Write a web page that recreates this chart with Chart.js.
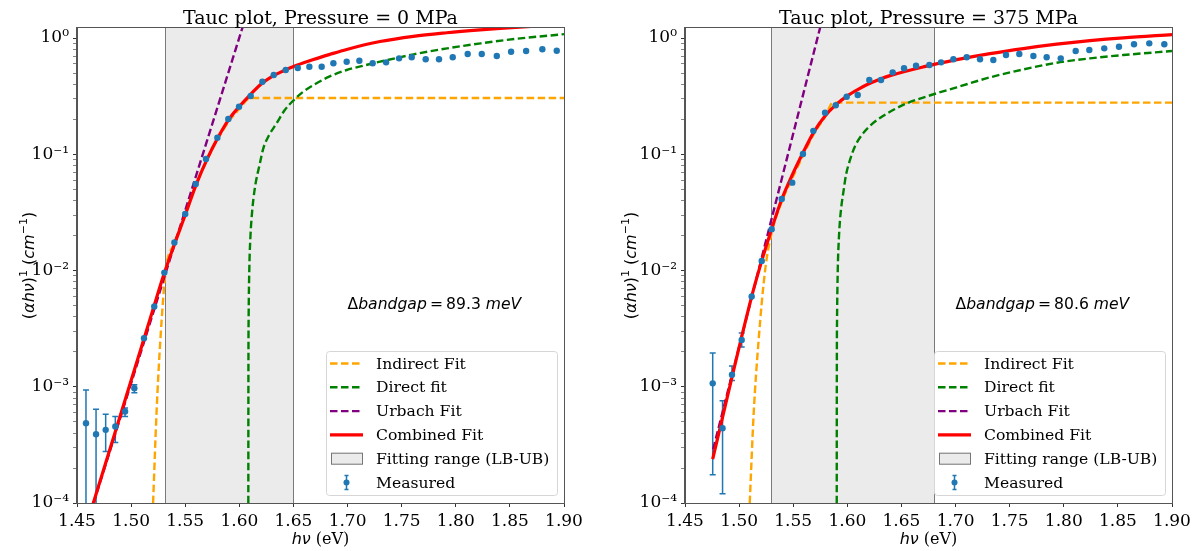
<!DOCTYPE html>
<html>
<head>
<meta charset="utf-8">
<script src="https://cdn.jsdelivr.net/npm/chart.js@4.4.1/dist/chart.umd.min.js"></script>
<style>
  body { margin: 0; background: #fff; }
  #wrap { position: relative; width: 1204px; height: 551px; }
  canvas { position: absolute; top: 0; }
  #c0 { left: 0; }
  #c1 { left: 602px; }
</style>
</head>
<body>
<div id="wrap">
  <canvas id="c0" width="602" height="551"></canvas>
  <canvas id="c1" width="602" height="551"></canvas>
</div>
<script>
// axis ticks and texts
const xTicks = [1.45, 1.50, 1.55, 1.60, 1.65, 1.70, 1.75, 1.80, 1.85, 1.90]
const yMajorTicks = [1e-4, 1e-3, 1e-2, 1e-1, 1]
const yTickLabels = ['10⁻⁴', '10⁻³', '10⁻²', '10⁻¹', '10⁰']
const legendLabels = ['Indirect Fit', 'Direct fit', 'Urbach Fit', 'Combined Fit', 'Fitting range (LB-UB)', 'Measured']
const panelTitles = ['Tauc plot, Pressure = 0 MPa', 'Tauc plot, Pressure = 375 MPa']
const bandgapShift = ['89.3', '80.6']

// ---- 0 MPa ----
const measE0 = [1.4583, 1.4676, 1.4765, 1.4854, 1.4944, 1.5030, 1.5119, 1.5214, 1.5307, 1.5400,
  1.5500, 1.5597, 1.5692, 1.5797, 1.5898, 1.5997, 1.6105, 1.6213, 1.6318, 1.6429,
  1.6540, 1.6647, 1.6761, 1.6869, 1.6992, 1.7109, 1.7232, 1.7356, 1.7476, 1.7593,
  1.7722, 1.7845, 1.7972, 1.8110, 1.8240, 1.8379, 1.8511, 1.8650, 1.8800, 1.8933]
const measY0 = [4.86e-4, 3.9e-4, 4.26e-4, 4.55e-4, 6.12e-4, 9.73e-4, 2.62e-3, 4.9e-3, 9.6e-3, 0.0174,
  0.0307, 0.0556, 0.0911, 0.139, 0.201, 0.257, 0.317, 0.421, 0.481, 0.531,
  0.552, 0.567, 0.567, 0.606, 0.626, 0.638, 0.606, 0.618, 0.669, 0.683,
  0.656, 0.656, 0.683, 0.728, 0.728, 0.700, 0.762, 0.773, 0.800, 0.778]
const errLow0 = [1e-5, 5e-5, 2.77e-4, 3.31e-4, 5.54e-4, 8.9e-4]
const errHigh0 = [9.4e-4, 6.41e-4, 5.81e-4, 5.54e-4, 6.55e-4, 1.04e-3]
const combE0 = [1.450, 1.500, 1.520, 1.530, 1.540, 1.550, 1.560, 1.570, 1.580, 1.590, 1.600, 1.610,
  1.620, 1.630, 1.640, 1.653, 1.6684, 1.6838, 1.6992, 1.730, 1.7608, 1.7916, 1.8224, 1.8409, 1.870, 1.900]
const combY0 = [3.5e-5, 1.13e-3, 4.55e-3, 9.1e-3, 0.0168, 0.0300, 0.0545, 0.090, 0.138, 0.198, 0.258, 0.325,
  0.400, 0.465, 0.518, 0.582, 0.653, 0.724, 0.798, 0.933, 1.035, 1.11, 1.175, 1.21, 1.26, 1.30]
const indE0 = [1.5203, 1.5235, 1.527, 1.532, 1.540, 1.550, 1.560, 1.570, 1.580, 1.590, 1.600, 1.6105, 1.900]
const indY0 = [1e-4, 6e-4, 2.5e-3, 1.0e-2, 0.0172, 0.0305, 0.055, 0.089, 0.135, 0.190, 0.245, 0.305, 0.305]
const dirE0 = [1.6083, 1.6084, 1.6086, 1.6093, 1.6103, 1.6113, 1.6129, 1.6153, 1.6183, 1.6221, 1.6273,
  1.6345, 1.6420, 1.6499, 1.6590, 1.6685, 1.6830, 1.6992, 1.7150, 1.7300, 1.7610, 1.7920, 1.8230, 1.8540, 1.9000]
const dirY0 = [8e-5, 1.5e-3, 4e-3, 0.011, 0.020, 0.028, 0.0405, 0.058, 0.078, 0.112, 0.145,
  0.185, 0.240, 0.290, 0.345, 0.394, 0.465, 0.531, 0.580, 0.626, 0.724, 0.815, 0.900, 0.980, 1.08]
const urbE0 = [1.45, 1.61]
const urbY0 = [3.5e-5, 2.0]
const fitRange0 = [1.531, 1.650]

// ---- 375 MPa ----
const measE1 = [1.4756, 1.4847, 1.4934, 1.5024, 1.5116, 1.5209, 1.5301, 1.5394, 1.5491, 1.5590,
  1.5686, 1.5794, 1.5893, 1.5994, 1.6096, 1.6203, 1.6311, 1.6419, 1.6524, 1.6635,
  1.6758, 1.6866, 1.6980, 1.7103, 1.7226, 1.7349, 1.7466, 1.7589, 1.7719, 1.7842,
  1.7972, 1.8110, 1.8236, 1.8374, 1.8510, 1.8649, 1.8790, 1.8929]
const measY1 = [1.07e-3, 4.4e-4, 1.27e-3, 2.53e-3, 5.97e-3, 0.0121, 0.0227, 0.0413, 0.057, 0.1007,
  0.159, 0.228, 0.264, 0.313, 0.324, 0.435, 0.435, 0.507, 0.549, 0.578,
  0.586, 0.618, 0.656, 0.683, 0.656, 0.647, 0.714, 0.728, 0.700, 0.683,
  0.669, 0.773, 0.789, 0.815, 0.842, 0.883, 0.900, 0.883]
const errLow1 = [1.75e-4, 1.2e-4, 1.13e-3, 2.2e-3]
const errHigh1 = [1.95e-3, 7.57e-4, 1.51e-3, 2.9e-3]
const combE1 = [1.4756, 1.5116, 1.5209, 1.530, 1.5394, 1.549, 1.559, 1.5686, 1.5794, 1.5893, 1.600, 1.610,
  1.6179, 1.630, 1.6394, 1.6702, 1.7011, 1.7318, 1.7626, 1.7935, 1.8242, 1.855, 1.900]
const combY1 = [2.39e-4, 5.97e-3, 0.0121, 0.0227, 0.041, 0.066, 0.103, 0.153, 0.213, 0.266, 0.318, 0.362,
  0.396, 0.442, 0.475, 0.565, 0.652, 0.735, 0.812, 0.885, 0.950, 1.005, 1.07]
const indE1 = [1.5098, 1.5135, 1.518, 1.524, 1.530, 1.5394, 1.549, 1.559, 1.5686, 1.5794, 1.5868, 1.900]
const indY1 = [1e-4, 6e-4, 2.5e-3, 1e-2, 0.021, 0.039, 0.062, 0.097, 0.147, 0.210, 0.278, 0.278]
const dirE1 = [1.5902, 1.5903, 1.5905, 1.5912, 1.5922, 1.5932, 1.5947, 1.5963, 1.5987, 1.6024, 1.6072, 1.6147,
  1.6222, 1.6301, 1.6394, 1.6549, 1.6804, 1.7011, 1.7318, 1.7626, 1.7935, 1.8242, 1.8550, 1.9000]
const dirY1 = [8e-5, 1.5e-3, 3.8e-3, 0.0106, 0.019, 0.027, 0.037, 0.047, 0.066, 0.089, 0.118, 0.152,
  0.180, 0.205, 0.232, 0.274, 0.330, 0.377, 0.459, 0.537, 0.613, 0.669, 0.714, 0.773]
const urbE1 = [1.476, 1.58]
const urbY1 = [2.9e-4, 1.9]
const fitRange1 = [1.5295, 1.680]

const blue = '#1f77b4'
const colors = { indirect: '#FFA500', direct: '#008000', urbach: '#800080', combined: '#FF0000' }
const dash = [7.5, 3.5]

const yMinorTicks = []
for (let d = -4; d < 0; d++) {
  for (let k = 2; k <= 9; k++) yMinorTicks.push(k * Math.pow(10, d))
}

function pts(E, Y) {
  return E.map((e, i) => ({ x: e, y: Y[i] }))
}

// draws pieces of text with their own font one after another
function drawRich(ctx, segs, x, y, align) {
  let w = 0
  segs.forEach(s => { ctx.font = s.f; w += ctx.measureText(s.t).width })
  let cx = align === 'center' ? x - w / 2 : x
  ctx.textAlign = 'left'
  segs.forEach(s => {
    ctx.font = s.f
    ctx.fillText(s.t, cx, y + (s.dy || 0))
    cx += ctx.measureText(s.t).width
  })
}

function dashLine(ctx, x0, x1, y, color, width, pattern) {
  ctx.save()
  ctx.strokeStyle = color
  ctx.lineWidth = width
  ctx.setLineDash(pattern)
  ctx.beginPath()
  ctx.moveTo(x0, y)
  ctx.lineTo(x1, y)
  ctx.stroke()
  ctx.restore()
}

const taucPlugin = {
  id: 'tauc',
  beforeDatasetsDraw(chart, args, o) {
    const { ctx, chartArea: a } = chart
    const x = chart.scales.x, y = chart.scales.y
    const l = Math.round(x.getPixelForValue(o.range[0])) + 0.5
    const r = Math.round(x.getPixelForValue(o.range[1])) + 0.5
    ctx.save()
    ctx.fillStyle = 'rgba(211,211,211,0.45)'
    ctx.fillRect(l, a.top, r - l, a.bottom - a.top)
    ctx.strokeStyle = 'rgba(40,40,40,0.6)'
    ctx.lineWidth = 1
    ctx.beginPath()
    ctx.moveTo(l, a.top); ctx.lineTo(l, a.bottom)
    ctx.moveTo(r, a.top); ctx.lineTo(r, a.bottom)
    ctx.stroke()

    // error bars of the measured points
    ctx.beginPath()
    ctx.rect(a.left, a.top, a.right - a.left, a.bottom - a.top)
    ctx.clip()
    ctx.strokeStyle = blue
    ctx.lineWidth = 1.5
    o.errLow.forEach((lo, i) => {
      const px = x.getPixelForValue(o.measE[i])
      const top = y.getPixelForValue(o.errHigh[i])
      const bot = y.getPixelForValue(lo)
      ctx.beginPath()
      ctx.moveTo(px, top); ctx.lineTo(px, bot)
      ctx.moveTo(px - 3, top); ctx.lineTo(px + 3, top)
      ctx.moveTo(px - 3, bot); ctx.lineTo(px + 3, bot)
      ctx.stroke()
    })
    ctx.restore()
  },
  afterDatasetsDraw(chart) {
    const { ctx, chartArea: a } = chart
    ctx.save()
    ctx.strokeStyle = '#555'
    ctx.lineWidth = 1
    ctx.strokeRect(Math.round(a.left) - 0.5, Math.round(a.top) - 0.5, Math.round(a.right - a.left) + 1, Math.round(a.bottom - a.top) + 1)
    ctx.restore()
  },
  afterDraw(chart, args, o) {
    const { ctx, chartArea: a } = chart
    const x = chart.scales.x, y = chart.scales.y
    const cx = (a.left + a.right) / 2
    const sans = '"DejaVu Sans"', serif = '"DejaVu Serif"'
    ctx.save()
    ctx.fillStyle = '#000'
    ctx.textBaseline = 'alphabetic'

    // title
    ctx.textAlign = 'center'
    ctx.font = `19px ${serif}`
    ctx.fillText(o.title, cx, 24)

    // x axis label
    drawRich(ctx, [
      { t: 'hν', f: `italic 16px ${sans}` },
      { t: ' (eV)', f: `16px ${serif}` }
    ], cx, 544, 'center')

    // bandgap note
    drawRich(ctx, [
      { t: 'Δ', f: `15.6px ${sans}` },
      { t: 'bandgap', f: `italic 15.6px ${sans}` },
      { t: '\u2009=\u2009', f: `15.6px ${sans}` },
      { t: o.gap, f: `15.6px ${sans}` },
      { t: ' ', f: `15.6px ${sans}` },
      { t: 'meV', f: `italic 15.6px ${sans}` }
    ], x.getPixelForValue(1.70), y.getPixelForValue(0.005) + 3, 'left')

    // legend
    const bw = 231, bh = 144
    const bx = a.right - 7 - bw, by = a.bottom - 8 - bh
    ctx.beginPath()
    ctx.roundRect(bx + 0.5, by + 0.5, bw, bh, 3)
    ctx.fillStyle = 'rgba(255,255,255,0.8)'
    ctx.fill()
    ctx.strokeStyle = '#d6d6d6'
    ctx.stroke()
    const sx0 = bx + 4, sx1 = bx + 37
    legendLabels.forEach((lab, i) => {
      const ry = by + 12.5 + i * 23.8
      if (i === 0) dashLine(ctx, sx0, sx1, ry, colors.indirect, 2.4, dash)
      if (i === 1) dashLine(ctx, sx0, sx1, ry, colors.direct, 2.4, dash)
      if (i === 2) dashLine(ctx, sx0, sx1, ry, colors.urbach, 2.4, dash)
      if (i === 3) dashLine(ctx, sx0, sx1, ry, colors.combined, 3.2, [])
      if (i === 4) {
        ctx.fillStyle = 'rgba(211,211,211,0.45)'
        ctx.fillRect(sx0 + 1, ry - 6, 32, 12)
        ctx.strokeStyle = 'rgba(40,40,40,0.6)'
        ctx.lineWidth = 1
        ctx.strokeRect(sx0 + 1.5, ry - 5.5, 31, 11)
      }
      if (i === 5) {
        const mx = (sx0 + sx1) / 2
        ctx.strokeStyle = blue
        ctx.lineWidth = 1.5
        ctx.beginPath()
        ctx.moveTo(mx, ry - 7); ctx.lineTo(mx, ry + 7)
        ctx.moveTo(mx - 2, ry - 7); ctx.lineTo(mx + 2, ry - 7)
        ctx.moveTo(mx - 2, ry + 7); ctx.lineTo(mx + 2, ry + 7)
        ctx.stroke()
        ctx.fillStyle = blue
        ctx.beginPath()
        ctx.arc(mx, ry, 3, 0, Math.PI * 2)
        ctx.fill()
      }
      ctx.fillStyle = '#000'
      ctx.font = `15.6px ${serif}`
      ctx.textAlign = 'left'
      ctx.textBaseline = 'middle'
      ctx.fillText(lab, bx + 50, ry + 1)
      ctx.textBaseline = 'alphabetic'
    })

    // y axis label, rotated
    ctx.translate(28, (a.top + a.bottom) / 2)
    ctx.rotate(-Math.PI / 2)
    drawRich(ctx, [
      { t: '(', f: `16px ${sans}` },
      { t: 'αhν', f: `italic 16px ${sans}` },
      { t: ')', f: `16px ${sans}` },
      { t: '1', f: `11px ${sans}`, dy: -7 },
      { t: ' (', f: `16px ${sans}` },
      { t: 'cm', f: `italic 16px ${sans}` },
      { t: '−1', f: `11px ${sans}`, dy: -7 },
      { t: ')', f: `16px ${sans}` }
    ], 0, 6, 'center')
    ctx.restore()
  }
}

function makePanel(id, d) {
  const curve = (data, color, width, pattern) => ({
    data, showLine: true, pointRadius: 0, borderColor: color, borderWidth: width,
    borderDash: pattern, cubicInterpolationMode: 'monotone', fill: false
  })
  return new Chart(document.getElementById(id), {
    type: 'scatter',
    data: {
      datasets: [
        { data: pts(d.measE, d.measY), pointRadius: 3.2, pointBackgroundColor: blue, pointBorderWidth: 0, showLine: false },
        curve(pts(d.combE, d.combY), colors.combined, 3.2, []),
        curve(pts(d.urbE, d.urbY), colors.urbach, 2.4, dash),
        curve(pts(d.dirE, d.dirY), colors.direct, 2.4, dash),
        curve(pts(d.indE, d.indY), colors.indirect, 2.4, dash)
      ]
    },
    plugins: [taucPlugin],
    options: {
      responsive: false,
      animation: false,
      layout: { padding: { left: 0, right: d.padRight, top: 28, bottom: 0 } },
      plugins: {
        legend: { display: false },
        tooltip: { enabled: false },
        tauc: { title: d.title, gap: d.gap, range: d.range, measE: d.measE, errLow: d.errLow, errHigh: d.errHigh }
      },
      scales: {
        x: {
          type: 'linear', min: 1.45, max: 1.90,
          afterBuildTicks: s => { s.ticks = xTicks.map(v => ({ value: v })) },
          afterFit: s => { s.height = 48 },
          ticks: { callback: v => v.toFixed(2), color: '#000', padding: 4, maxRotation: 0, autoSkip: false,
            font: { family: 'DejaVu Serif', size: 17 } },
          grid: { drawOnChartArea: false, tickLength: 4, tickColor: '#333' },
          border: { color: '#555' }
        },
        y: {
          type: 'logarithmic', min: 1e-4, max: 1.22,
          afterBuildTicks: s => { s.ticks = yMajorTicks.concat(yMinorTicks).map(v => ({ value: v })) },
          afterFit: s => { s.width = d.yWidth },
          ticks: { callback: v => { const i = yMajorTicks.indexOf(v); return i < 0 ? '' : yTickLabels[i] },
            color: '#000', padding: 4, autoSkip: false, font: { family: 'DejaVu Serif', size: 17 } },
          grid: { drawOnChartArea: false, tickLength: 4, tickColor: '#333',
            tickWidth: c => yMajorTicks.includes(c.tick && c.tick.value) ? 1 : 0.6 },
          border: { color: '#555' }
        }
      }
    }
  })
}

makePanel('c0', {
  title: panelTitles[0], gap: bandgapShift[0], range: fitRange0,
  measE: measE0, measY: measY0, errLow: errLow0, errHigh: errHigh0,
  combE: combE0, combY: combY0, indE: indE0, indY: indY0,
  dirE: dirE0, dirY: dirY0, urbE: urbE0, urbY: urbY0,
  yWidth: 77, padRight: 38
})

makePanel('c1', {
  title: panelTitles[1], gap: bandgapShift[1], range: fitRange1,
  measE: measE1, measY: measY1, errLow: errLow1, errHigh: errHigh1,
  combE: combE1, combY: combY1, indE: indE1, indY: indY1,
  dirE: dirE1, dirY: dirY1, urbE: urbE1, urbY: urbY1,
  yWidth: 83, padRight: 32
})
</script>
</body>
</html>
